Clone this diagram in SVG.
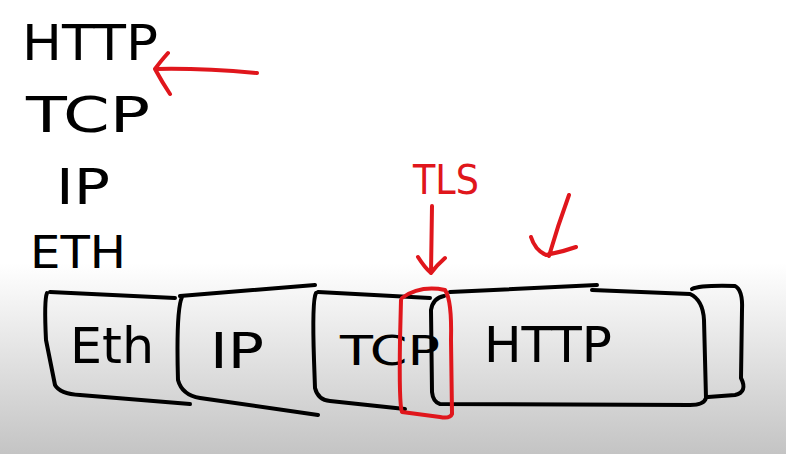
<svg xmlns="http://www.w3.org/2000/svg" width="786" height="454" viewBox="0 0 786 454">
<defs>
<linearGradient id="bg" x1="0" y1="0" x2="0" y2="1">
<stop offset="0" stop-color="#ffffff"/>
<stop offset="0.58" stop-color="#ffffff"/>
<stop offset="1" stop-color="#c4c4c4"/>
</linearGradient>
<style>
.ink{fill:none;stroke:#000;stroke-width:4;stroke-linecap:round;stroke-linejoin:round}
.red{fill:none;stroke:#e0161c;stroke-width:4;stroke-linecap:round;stroke-linejoin:round}
.t{font-family:"DejaVu Sans","Liberation Sans",sans-serif;fill:#000}
.rt{font-family:"DejaVu Sans","Liberation Sans",sans-serif;fill:#e0161c}
</style>
</defs>
<rect width="786" height="454" fill="url(#bg)"/>

<g id="stack">
<text class="t" x="22" y="60" font-size="50" textLength="136" lengthAdjust="spacingAndGlyphs">HTTP</text>
<text class="t" x="26" y="132" font-size="50" textLength="124" lengthAdjust="spacingAndGlyphs">TCP</text>
<text class="t" x="56" y="204" font-size="50" textLength="54" lengthAdjust="spacingAndGlyphs">IP</text>
<text class="t" x="30" y="268" font-size="44" textLength="96" lengthAdjust="spacingAndGlyphs">ETH</text>
</g>

<g id="eth">
<path class="ink" d="M50 292 L175 298 M47 293 Q44 300 46 340 L55 385 Q60 394 80 395 L190 404"/>
<text class="t" x="70" y="363" font-size="50" textLength="84" lengthAdjust="spacingAndGlyphs">Eth</text>
</g>
<g id="ip">
<path class="ink" d="M180 296 L315 285 M182 297 Q176 310 178 380 Q182 395 200 398 L318 415"/>
<text class="t" x="210" y="368" font-size="50" textLength="54" lengthAdjust="spacingAndGlyphs">IP</text>
</g>
<g id="tcp">
<path class="ink" d="M318 292 L430 298 M316 293 Q312 300 314 360 L315 388 Q318 400 330 401 L405 409"/>
<text class="t" x="340" y="365" font-size="40" textLength="100" lengthAdjust="spacingAndGlyphs">TCP</text>
</g>
<g id="http">
<path class="ink" d="M450 292 L597 285 M592 290 L690 294 Q703 300 704 320 L706 398 Q704 405 690 405 L440 404 Q433 402 432 392 L431 310 Q433 298 444 296"/>
<text class="t" x="484" y="362" font-size="50" textLength="128" lengthAdjust="spacingAndGlyphs">HTTP</text>
</g>
<g id="trailer">
<path class="ink" d="M692 289 Q700 285 735 286 Q743 290 742 310 L741 378 Q748 392 735 395 L708 397"/>
</g>
<g id="tls">
<path class="red" d="M402 298 Q420 285 445 290 Q452 300 451 340 L452 414 Q450 419 440 417 L402 412 Q399 405 400 340 L401 300"/>
<text class="rt" x="413" y="194" font-size="40" textLength="66" lengthAdjust="spacingAndGlyphs">TLS</text>
</g>

<g id="connectors">
<path class="red" d="M257 73 Q200 68 156 69 M168 53 Q160 62 155 69 Q162 82 170 94"/>
<path class="red" d="M432 206 L431 273 M418 257 Q425 268 431 273 Q437 265 445 258"/>
<path class="red" d="M569 195 Q558 225 549 256 M531 237 Q535 250 546 255 Q562 252 576 247"/>
</g>
</svg>
